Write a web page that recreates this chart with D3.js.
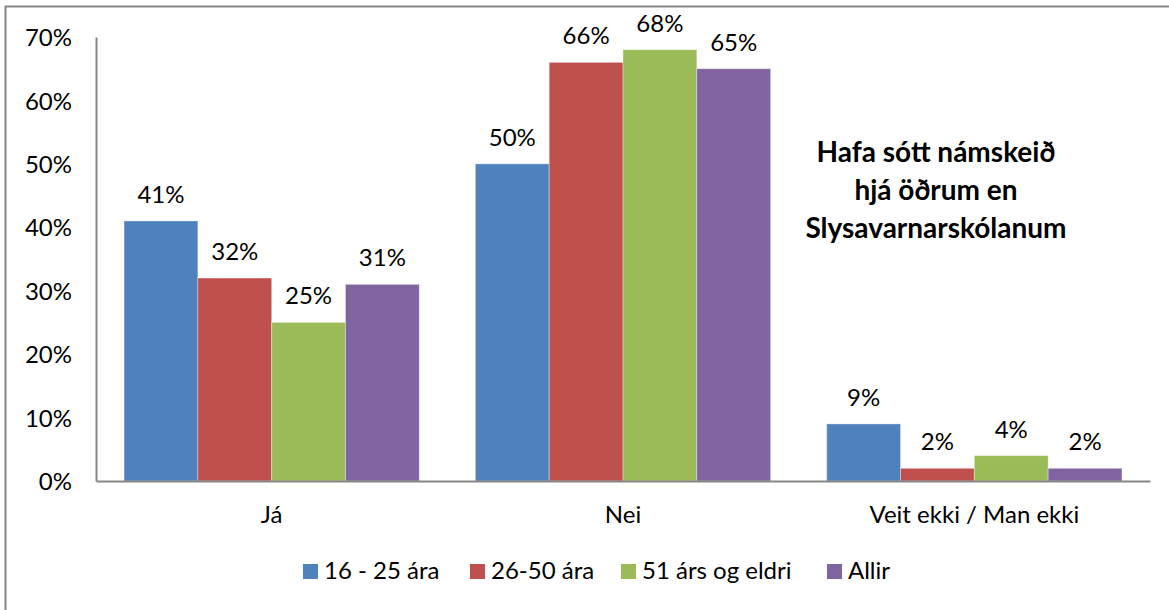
<!DOCTYPE html>
<html lang="is">
<head>
  <meta charset="UTF-8">
  <title>Hafa sótt námskeið hjá öðrum en Slysavarnarskólanum</title>
  <style>
    body {
      margin: 0;
      padding: 0;
      background: #fff;
      font-family: Lato, "Open Sans", sans-serif;
    }
    svg text {
      fill: #000;
    }
  </style>
</head>
<body>
  <svg id="chart" width="1169" height="610"></svg>

  <script src="https://d3js.org/d3.v7.min.js"></script>
  <script>
    const categories = ['Já', 'Nei', 'Veit ekki / Man ekki'];
    const seriesNames = ['16 - 25 ára', '26-50 ára', '51 árs og eldri', 'Allir'];
    const seriesColors = ['#4F81BD', '#C0504D', '#9BBB59', '#8064A2'];
    const values16_25 = [41, 50, 9];
    const values26_50 = [32, 66, 2];
    const values51 = [25, 68, 4];
    const valuesAllir = [31, 65, 2];
    const yTicks = [0, 10, 20, 30, 40, 50, 60, 70];
    const titleLines = ['Hafa sótt námskeið', 'hjá öðrum en', 'Slysavarnarskólanum'];

    const allSeries = [values16_25, values26_50, values51, valuesAllir];

    const svg = d3.select('#chart');
    const fontSize = '24px';

    // outer frame (only top and left edges are inside the picture)
    svg.append('rect')
      .attr('x', 5.5)
      .attr('y', 6.5)
      .attr('width', 1300)
      .attr('height', 800)
      .attr('fill', 'none')
      .attr('stroke', '#868686')
      .attr('stroke-width', 2);

    const plotLeft = 96, plotRight = 1150, plotTop = 37, plotBottom = 481;

    const x = d3.scaleBand()
      .domain(categories)
      .range([plotLeft, plotRight]);

    const xInner = d3.scaleBand()
      .domain(seriesNames)
      .range([0, x.bandwidth()])
      .paddingOuter(0.38);

    const y = d3.scaleLinear()
      .domain([0, 70])
      .range([plotBottom, plotTop]);

    // bars
    const groups = svg.selectAll('.group')
      .data(categories)
      .enter()
      .append('g')
      .attr('class', 'group')
      .attr('transform', d => `translate(${x(d)},0)`);

    groups.selectAll('rect')
      .data((c, ci) => seriesNames.map((s, si) => ({ s, si, v: allSeries[si][ci] })))
      .enter()
      .append('rect')
      .attr('x', d => xInner(d.s))
      .attr('y', d => y(d.v))
      .attr('width', xInner.bandwidth())
      .attr('height', d => y(0) - y(d.v))
      .attr('fill', d => seriesColors[d.si])
      .attr('stroke', 'rgba(255,255,255,0.35)')
      .attr('stroke-width', 1);

    // value labels
    groups.selectAll('.val')
      .data((c, ci) => seriesNames.map((s, si) => ({ s, si, v: allSeries[si][ci] })))
      .enter()
      .append('text')
      .attr('class', 'val')
      .attr('x', d => xInner(d.s) + xInner.bandwidth() / 2)
      .attr('y', d => y(d.v) - 18)
      .attr('text-anchor', 'middle')
      .style('font-size', fontSize)
      .text(d => d.v + '%');

    // y axis
    const yAxis = svg.append('g')
      .attr('transform', `translate(${plotLeft},0)`)
      .call(d3.axisLeft(y).tickValues(yTicks).tickSize(0).tickPadding(24).tickFormat(d => d + '%'));
    yAxis.select('.domain').attr('stroke', '#868686').attr('stroke-width', 2);
    yAxis.selectAll('text')
      .style('font-size', fontSize)
      .style('font-family', 'Lato, "Open Sans", sans-serif')
      .attr('dy', '0.36em');

    // x axis
    const xAxis = svg.append('g')
      .attr('transform', `translate(0,${plotBottom})`)
      .call(d3.axisBottom(x).tickSize(0).tickPadding(25));
    xAxis.select('.domain').attr('stroke', '#868686').attr('stroke-width', 2);
    xAxis.selectAll('text')
      .style('font-size', fontSize)
      .style('font-family', 'Lato, "Open Sans", sans-serif');

    // title inside plot
    svg.append('text')
      .attr('x', 936)
      .attr('y', 162)
      .attr('text-anchor', 'middle')
      .style('font-size', '28px')
      .style('font-weight', 'bold')
      .selectAll('tspan')
      .data(titleLines)
      .enter()
      .append('tspan')
      .attr('x', 936)
      .attr('dy', (d, i) => i === 0 ? 0 : 38)
      .text(d => d);

    // legend
    const legendX = [303, 470, 621, 827];
    const legend = svg.selectAll('.legend')
      .data(seriesNames)
      .enter()
      .append('g')
      .attr('class', 'legend')
      .attr('transform', (d, i) => `translate(${legendX[i]},564)`);

    legend.append('rect')
      .attr('width', 15)
      .attr('height', 15)
      .attr('fill', (d, i) => seriesColors[i]);

    legend.append('text')
      .attr('x', 21)
      .attr('y', 15)
      .style('font-size', fontSize)
      .text(d => d);
  </script>
</body>
</html>
